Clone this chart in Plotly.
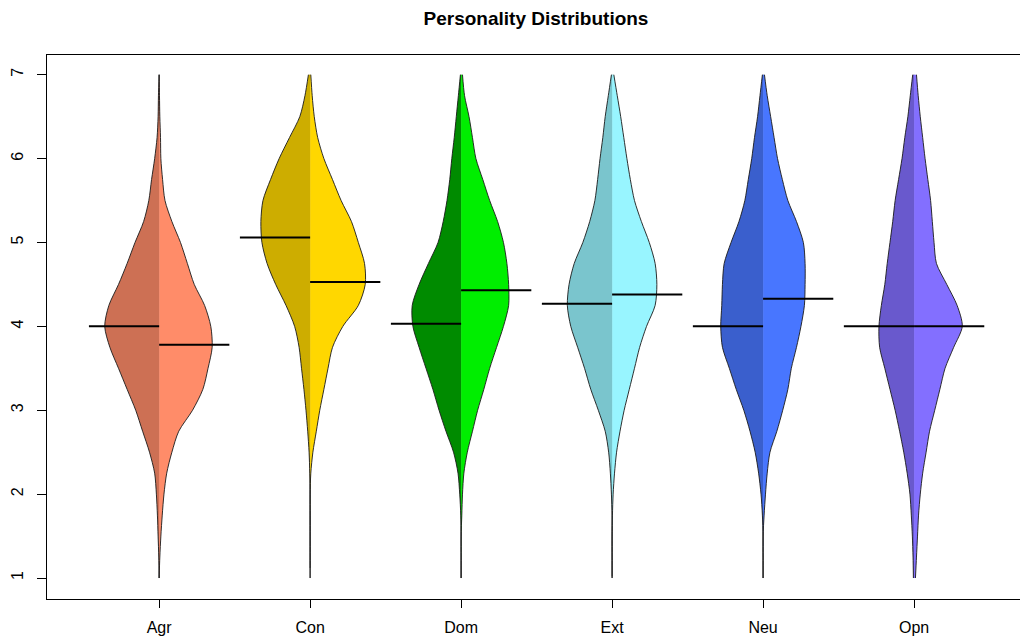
import plotly.graph_objects as go

# Trait scales (1-7) split into two groups per trait
TRAITS = ["Agr", "Con", "Dom", "Ext", "Neu", "Opn"]

# Score levels at which the kernel density profiles are tabulated
Y_GRID = [1.0, 1.25, 1.5, 1.75, 2.0, 2.25, 2.5, 2.75, 3.0, 3.25, 3.5, 3.75,
          4.0, 4.25, 4.5, 4.75, 5.0, 5.25, 5.5, 5.75, 6.0, 6.25, 6.5, 6.75, 7.0]

# Density profiles (relative units) for the first group (left halves)
DENS_LEFT = {
    "Agr": [0, 1, 3, 5, 8, 13, 28, 48, 68, 93, 118, 143, 158, 146, 118, 93, 70, 45, 30, 22, 13, 6, 3, 2, 0],
    "Con": [0, 0, 0, 0, 0, 1, 3, 7, 12, 18, 25, 32, 45, 70, 100, 125, 140, 143, 137, 115, 90, 60, 30, 15, 5],
    "Dom": [0, 0, 0, 1, 4, 9, 22, 44, 64, 82, 102, 122, 140, 142, 122, 95, 67, 52, 41, 33, 27, 20, 14, 8, 2],
    "Ext": [0, 0, 0, 0, 2, 5, 10, 20, 40, 62, 80, 100, 120, 130, 125, 110, 85, 65, 50, 42, 35, 27, 20, 11, 2],
    "Neu": [0, 0, 0, 2, 6, 13, 23, 38, 56, 78, 98, 118, 123, 120, 118, 113, 93, 70, 53, 43, 33, 25, 16, 9, 2],
    "Opn": [2, 3, 5, 8, 12, 20, 30, 42, 55, 70, 85, 100, 102, 95, 85, 78, 70, 62, 55, 45, 35, 27, 18, 11, 4],
}

# Density profiles (relative units) for the second group (right halves)
DENS_RIGHT = {
    "Agr": [0, 2, 5, 9, 14, 22, 37, 57, 97, 127, 142, 154, 150, 132, 102, 82, 62, 37, 17, 10, 5, 4, 2, 1, 0],
    "Con": [0, 0, 0, 0, 0, 2, 8, 18, 28, 40, 52, 65, 95, 140, 160, 158, 140, 120, 90, 65, 40, 22, 12, 6, 2],
    "Dom": [0, 0, 0, 2, 4, 8, 18, 33, 48, 66, 83, 103, 123, 138, 138, 133, 123, 106, 83, 63, 43, 33, 23, 10, 4],
    "Ext": [0, 0, 0, 1, 3, 7, 13, 23, 35, 50, 65, 80, 100, 125, 130, 125, 108, 85, 65, 53, 43, 34, 25, 15, 5],
    "Neu": [0, 0, 0, 3, 7, 12, 20, 40, 57, 72, 82, 97, 110, 120, 122, 122, 117, 97, 72, 56, 42, 32, 22, 12, 4],
    "Opn": [4, 7, 10, 13, 18, 25, 35, 45, 60, 75, 90, 115, 140, 125, 95, 65, 58, 53, 48, 40, 32, 25, 18, 12, 7],
}

# Group medians per trait
MEDIAN_LEFT = [4.00, 5.06, 4.03, 4.27, 4.00, 4.00]
MEDIAN_RIGHT = [3.78, 4.53, 4.43, 4.38, 4.33, 4.00]

# Observed score range per trait
SCORE_MIN = [1.00, 1.12, 1.00, 1.02, 1.00, 1.00]
SCORE_MAX = [7.00, 7.00, 7.00, 7.00, 7.00, 7.00]

# Fill colours: darker shade for the left half, lighter for the right
COLOR_LEFT = ["#CD7054", "#CDAD00", "#008B00", "#7AC5CD", "#3A5FCD", "#6959CD"]
COLOR_RIGHT = ["#FF8C69", "#FFD700", "#00EE00", "#98F5FF", "#4876FF", "#836FFF"]

WIDTH_SCALE = 1 / 438.5   # density units -> x-axis half width
MEDIAN_HALF = 0.465       # length of each median segment

fig = go.Figure()

for i, trait in enumerate(TRAITS):
    c = i + 1
    # thin line spanning the observed range
    fig.add_trace(go.Scatter(
        x=[c, c], y=[SCORE_MIN[i], SCORE_MAX[i]], mode="lines",
        line=dict(color="#666666", width=1), hoverinfo="skip", showlegend=False))

    for side, dens, col in ((-1, DENS_LEFT[trait], COLOR_LEFT[i]),
                            (1, DENS_RIGHT[trait], COLOR_RIGHT[i])):
        # centre line that each half is filled against
        fig.add_trace(go.Scatter(
            x=[c] * len(Y_GRID), y=Y_GRID, mode="lines",
            line=dict(width=0, color=col), hoverinfo="skip", showlegend=False))
        fig.add_trace(go.Scatter(
            x=[c + side * d * WIDTH_SCALE for d in dens], y=Y_GRID,
            mode="lines", fill="tonextx", fillcolor=col,
            line=dict(color="#1a1a1a", width=0.9, shape="spline", smoothing=0.8),
            hoverinfo="skip", showlegend=False))

for i in range(len(TRAITS)):
    c = i + 1
    fig.add_trace(go.Scatter(
        x=[c - MEDIAN_HALF, c], y=[MEDIAN_LEFT[i]] * 2, mode="lines",
        line=dict(color="black", width=2), hoverinfo="skip", showlegend=False))
    fig.add_trace(go.Scatter(
        x=[c, c + MEDIAN_HALF], y=[MEDIAN_RIGHT[i]] * 2, mode="lines",
        line=dict(color="black", width=2), hoverinfo="skip", showlegend=False))

fig.update_layout(
    width=1020, height=639,
    margin=dict(l=47, r=0, t=55, b=40),
    paper_bgcolor="white", plot_bgcolor="white",
    font=dict(family="Liberation Sans, Arial, sans-serif", size=16, color="black"),
    title=dict(text="<b>Personality Distributions</b>", x=536 / 1020, xref="container",
               xanchor="center", y=1 - 18 / 639, yref="container", yanchor="middle",
               font=dict(size=19, color="black")),
    showlegend=False,
)
fig.update_xaxes(
    range=[0.2573, 6.7016], tickvals=list(range(1, len(TRAITS) + 1)), ticktext=TRAITS,
    showgrid=False, zeroline=False, showline=True, linecolor="black", linewidth=1,
    mirror=True, ticks="outside", ticklen=8, tickcolor="black", ticklabelstandoff=6)
fig.update_yaxes(
    range=[0.75, 7.235], tickvals=[1, 2, 3, 4, 5, 6, 7], tickangle=-90,
    showgrid=False, zeroline=False, showline=True, linecolor="black", linewidth=1,
    mirror=False, ticks="outside", ticklen=9, tickcolor="black", ticklabelstandoff=8)

fig.write_html("out.html")
